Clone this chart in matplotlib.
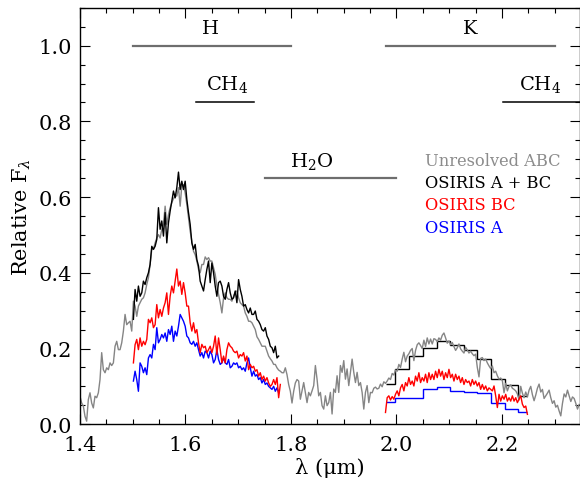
import numpy as np
import matplotlib
matplotlib.use('Agg')
import matplotlib.pyplot as plt
from matplotlib.ticker import MultipleLocator, FormatStrFormatter

# common wavelength grid (microns) of the spectra, 300 pixels
wl_grid = np.linspace(1.4, 2.3464, 300)

# unresolved ABC spectrum, whole grid
flux_abc = [
    0.074, 0.056, 0.048, 0.021, 0.008, 0.065, 0.083, 0.056, 0.043, 0.074, 0.070, 0.083, 0.118, 0.189, 0.144, 0.136,
    0.149, 0.144, 0.162, 0.155, 0.162, 0.206, 0.219, 0.197, 0.197, 0.215, 0.246, 0.290, 0.263, 0.268, 0.272, 0.246,
    0.325, 0.312, 0.285, 0.312, 0.321, 0.330, 0.334, 0.347, 0.369, 0.387, 0.422, 0.462, 0.462, 0.479, 0.492, 0.501,
    0.492, 0.515, 0.528, 0.576, 0.528, 0.554, 0.572, 0.585, 0.596, 0.603, 0.603, 0.625, 0.576, 0.631, 0.633, 0.611,
    0.581, 0.545, 0.510, 0.484, 0.457, 0.448, 0.431, 0.409, 0.400, 0.422, 0.422, 0.442, 0.435, 0.440, 0.431, 0.431,
    0.413, 0.396, 0.365, 0.343, 0.321, 0.294, 0.334, 0.347, 0.334, 0.330, 0.330, 0.325, 0.338, 0.349, 0.352, 0.334,
    0.321, 0.316, 0.312, 0.294, 0.285, 0.272, 0.272, 0.268, 0.259, 0.250, 0.231, 0.224, 0.215, 0.206, 0.206, 0.206,
    0.193, 0.180, 0.173, 0.167, 0.158, 0.158, 0.149, 0.143, 0.140, 0.136, 0.136, 0.149, 0.131, 0.105, 0.087, 0.056,
    0.087, 0.109, 0.118, 0.114,
    0.066, 0.088, 0.110, 0.084, 0.057, 0.084, 0.075, 0.088, 0.102, 0.155, 0.119, 0.075, 0.084, 0.049, 0.040, 0.075,
    0.049, 0.057, 0.084, 0.027, 0.093, 0.084, 0.128, 0.084, 0.155, 0.137, 0.168, 0.119, 0.146, 0.102, 0.137, 0.172,
    0.137, 0.110, 0.137, 0.102, 0.110, 0.084, 0.040, 0.084, 0.102, 0.057, 0.084,
    0.083, 0.095, 0.098, 0.093, 0.095, 0.106, 0.099, 0.112, 0.108, 0.114, 0.122, 0.118, 0.134, 0.130, 0.143, 0.140,
    0.158, 0.150, 0.172, 0.190, 0.165, 0.180, 0.186, 0.195, 0.200, 0.168, 0.195, 0.210, 0.215, 0.208, 0.200, 0.222,
    0.205, 0.228, 0.212, 0.225, 0.212, 0.226, 0.224, 0.218, 0.228, 0.222, 0.235, 0.241, 0.228, 0.214, 0.220, 0.210,
    0.216, 0.205, 0.195, 0.202, 0.212, 0.199, 0.193, 0.188, 0.203, 0.196, 0.188, 0.193, 0.186, 0.181, 0.185, 0.150,
    0.125, 0.174, 0.176, 0.168, 0.172, 0.162, 0.154, 0.147, 0.154, 0.136, 0.140, 0.128, 0.119, 0.122, 0.115, 0.083,
    0.108, 0.088, 0.100, 0.104, 0.095, 0.092, 0.088, 0.080, 0.064, 0.100,
    0.082, 0.070, 0.085, 0.072, 0.090, 0.100, 0.078, 0.062, 0.077, 0.095, 0.106, 0.085, 0.092, 0.068, 0.075, 0.082,
    0.090, 0.070, 0.055, 0.062, 0.045, 0.050, 0.035, 0.022, 0.055, 0.080, 0.072, 0.090, 0.075, 0.060, 0.072, 0.068,
    0.055, 0.040, 0.052,
]

# OSIRIS H band, grid pixels 32..119 (A+BC, A) and 32..120 (BC)
h_start = 32
flux_abc_h = [
    0.277, 0.356, 0.325, 0.365, 0.338, 0.347, 0.378, 0.369, 0.387, 0.400,
    0.422, 0.470, 0.462, 0.470, 0.488, 0.572, 0.515, 0.537, 0.497, 0.559,
    0.479, 0.532, 0.563, 0.589, 0.616, 0.598, 0.625, 0.666, 0.620, 0.642,
    0.620, 0.642, 0.594, 0.559, 0.528, 0.479, 0.462, 0.475, 0.435, 0.418,
    0.378, 0.365, 0.352, 0.382, 0.409, 0.431, 0.374, 0.426, 0.400, 0.365,
    0.338, 0.374, 0.378, 0.365, 0.338, 0.330, 0.356, 0.374, 0.347, 0.330,
    0.334, 0.352, 0.321, 0.382, 0.356, 0.338, 0.312, 0.316, 0.303, 0.294,
    0.307, 0.290, 0.290, 0.299, 0.277, 0.272, 0.263, 0.250, 0.246, 0.255,
    0.233, 0.224, 0.206, 0.202, 0.189, 0.206, 0.175, 0.180,
]
flux_bc_h = [
    0.162, 0.210, 0.224, 0.197, 0.228, 0.206, 0.219, 0.210, 0.224, 0.277,
    0.268, 0.281, 0.255, 0.263, 0.316, 0.281, 0.303, 0.285, 0.307, 0.321,
    0.347, 0.290, 0.338, 0.365, 0.347, 0.378, 0.410, 0.365, 0.378, 0.343,
    0.374, 0.347, 0.312, 0.312, 0.268, 0.246, 0.268, 0.241, 0.250, 0.215,
    0.189, 0.211, 0.202, 0.206, 0.189, 0.197, 0.206, 0.189, 0.206, 0.233,
    0.184, 0.228, 0.197, 0.162, 0.180, 0.162, 0.197, 0.215, 0.206, 0.202,
    0.193, 0.189, 0.193, 0.175, 0.184, 0.180, 0.189, 0.167, 0.180, 0.144,
    0.158, 0.149, 0.153, 0.140, 0.144, 0.127, 0.136, 0.118, 0.127, 0.114,
    0.123, 0.109, 0.100, 0.105, 0.118, 0.105, 0.123, 0.070, 0.105,
]
flux_a_h = [
    0.114, 0.140, 0.118, 0.087, 0.162, 0.153, 0.136, 0.149, 0.131, 0.175,
    0.184, 0.175, 0.211, 0.197, 0.255, 0.215, 0.224, 0.237, 0.228, 0.241,
    0.219, 0.250, 0.237, 0.259, 0.219, 0.246, 0.233, 0.259, 0.290, 0.281,
    0.272, 0.259, 0.233, 0.228, 0.215, 0.211, 0.219, 0.206, 0.215, 0.197,
    0.180, 0.189, 0.175, 0.193, 0.189, 0.175, 0.193, 0.184, 0.162, 0.171,
    0.197, 0.171, 0.158, 0.162, 0.175, 0.162, 0.158, 0.171, 0.149, 0.153,
    0.162, 0.158, 0.162, 0.149, 0.153, 0.144, 0.149, 0.140, 0.162, 0.175,
    0.149, 0.127, 0.140, 0.127, 0.131, 0.118, 0.123, 0.109, 0.118, 0.105,
    0.109, 0.100, 0.096, 0.092, 0.100, 0.087, 0.096, 0.083,
]

# OSIRIS BC K band, grid pixels 183..268
k_start = 183
flux_bc_k = [
    0.031, 0.070, 0.075, 0.064, 0.073, 0.066, 0.079, 0.088, 0.075, 0.096,
    0.105, 0.088, 0.110, 0.101, 0.123, 0.105, 0.114, 0.101, 0.127, 0.114,
    0.136, 0.110, 0.123, 0.114, 0.132, 0.110, 0.136, 0.118, 0.132, 0.118,
    0.140, 0.123, 0.145, 0.127, 0.140, 0.118, 0.136, 0.123, 0.145, 0.123,
    0.132, 0.114, 0.132, 0.118, 0.127, 0.110, 0.123, 0.105, 0.118, 0.110,
    0.114, 0.101, 0.118, 0.105, 0.114, 0.101, 0.110, 0.092, 0.105, 0.092,
    0.101, 0.088, 0.096, 0.092, 0.088, 0.101, 0.075, 0.044, 0.079, 0.061,
    0.075, 0.066, 0.079, 0.061, 0.070, 0.061, 0.075, 0.061, 0.070, 0.057,
    0.066, 0.075, 0.053, 0.044, 0.048, 0.026,
]

# binned K band (A+BC and A)
k_bin_edges = [1.981, 1.998, 2.024, 2.050, 2.077, 2.102, 2.128, 2.153, 2.180, 2.206, 2.231, 2.247]
flux_abc_k = [0.106, 0.145, 0.180, 0.202, 0.219, 0.210, 0.196, 0.171, 0.120, 0.104, 0.075]
flux_a_k = [0.058, 0.068, 0.070, 0.092, 0.097, 0.089, 0.085, 0.082, 0.056, 0.041, 0.031]

# band / feature markers: (label, x from, x to, y of bar, label x, label y)
bands = [('H', 1.50, 1.80, 1.00, 1.648, 1.046),
         ('K', 1.98, 2.30, 1.00, 2.139, 1.046),
         ('H$_2$O', 1.75, 2.00, 0.65, 1.84, 0.696)]
features = [('CH$_4$', 1.62, 1.73, 0.85, 1.678, 0.90),
            ('CH$_4$', 2.2026, 2.36, 0.85, 2.272, 0.90)]

legend_labels = ['Unresolved ABC', 'OSIRIS A + BC', 'OSIRIS BC', 'OSIRIS A']
legend_colors = ['#8c8c8c', 'black', 'red', 'blue']
legend_y = [0.697, 0.639, 0.581, 0.52]

assert len(flux_abc) == len(wl_grid)

plt.rcParams['font.family'] = 'DejaVu Serif'
plt.rcParams['mathtext.fontset'] = 'dejavuserif'

fig = plt.figure(figsize=(5.8, 4.81), dpi=100)
ax = fig.add_axes([0.1379, 0.116, 1 - 0.1379, 0.9816 - 0.116])

wl_h_abc = wl_grid[h_start:h_start + len(flux_abc_h)]
wl_h_bc = wl_grid[h_start:h_start + len(flux_bc_h)]
wl_h_a = wl_grid[h_start:h_start + len(flux_a_h)]
wl_k_bc = wl_grid[k_start:k_start + len(flux_bc_k)]

ax.plot(wl_grid, flux_abc, color='#858585', lw=1.0)
ax.plot(wl_h_abc, flux_abc_h, color='black', lw=1.0)
ax.stairs(flux_abc_k, k_bin_edges, baseline=None, color='black', lw=1.0)
ax.plot(wl_h_a, flux_a_h, color='blue', lw=1.0)
ax.stairs(flux_a_k, k_bin_edges, baseline=None, color='blue', lw=1.0)
ax.plot(wl_h_bc, flux_bc_h, color='red', lw=1.0)
ax.plot(wl_k_bc, flux_bc_k, color='red', lw=1.0)

for lab, x0, x1, yb, xt, yt in bands:
    ax.plot([x0, x1], [yb, yb], color='#6e6e6e', lw=1.6)
    ax.text(xt, yt, lab, fontsize=14, ha='center', va='center')
for lab, x0, x1, yb, xt, yt in features:
    ax.plot([x0, x1], [yb, yb], color='black', lw=1.1, clip_on=True)
    ax.text(xt, yt, lab, fontsize=14, ha='center', va='center')

for lab, c, y in zip(legend_labels, legend_colors, legend_y):
    ax.text(2.054, y, lab, color=c, fontsize=11.7, ha='left', va='center')

ax.set_xlim(1.4, 2.348)
ax.set_ylim(0, 1.1)
ax.xaxis.set_major_locator(MultipleLocator(0.2))
ax.xaxis.set_minor_locator(MultipleLocator(0.05))
ax.yaxis.set_major_locator(MultipleLocator(0.2))
ax.yaxis.set_minor_locator(MultipleLocator(0.05))
ax.xaxis.set_major_formatter(FormatStrFormatter('%.1f'))
ax.yaxis.set_major_formatter(FormatStrFormatter('%.1f'))
ax.tick_params(which='both', direction='in', top=True, right=True, labelsize=15, width=0.8)
ax.tick_params(which='major', length=7)
ax.tick_params(which='minor', length=3.6)
ax.tick_params(axis='x', pad=8)
ax.tick_params(axis='y', pad=6)
for s in ax.spines.values():
    s.set_linewidth(1.0)

ax.set_xlabel('λ (μm)', fontsize=15, labelpad=2)
ax.set_ylabel('Relative F$_\\lambda$', fontsize=15, labelpad=4)

fig.savefig('out.png', dpi=100)
